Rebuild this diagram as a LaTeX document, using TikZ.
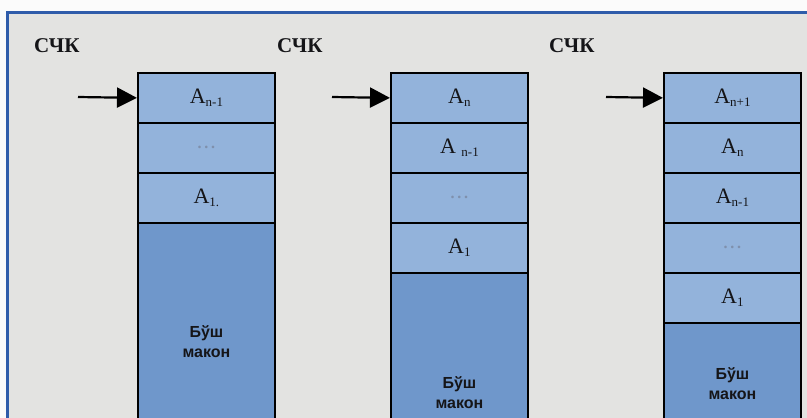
\documentclass[tikz,border=0pt]{standalone}
\usepackage{fontspec}
\setmainfont{Liberation Serif}
\newfontfamily\labsans{Liberation Sans}
\usetikzlibrary{arrows.meta}
\definecolor{bgray}{HTML}{E3E3E1}
\definecolor{framebl}{HTML}{2F5CAA}
\definecolor{cellbl}{HTML}{93B3DB}
\definecolor{freebl}{HTML}{6F97CB}
\definecolor{dotgr}{HTML}{7F90AC}
\definecolor{txtdk}{HTML}{151518}
\newcommand\Acell[1]{A\raisebox{-0.35ex}{\fontsize{13}{13}\selectfont #1}}
\tikzset{
  cellbox/.style={draw=black, line width=1.8pt, fill=cellbl, minimum width=137pt,
    minimum height=50pt, inner sep=0pt, anchor=north west, text=txtdk,
    font=\fontsize{22}{22}\selectfont},
  freebox/.style={draw=black, line width=1.8pt, fill=freebl, minimum width=137pt,
    inner sep=0pt, anchor=north west, text=txtdk, align=center,
    font=\labsans\bfseries\fontsize{16}{20}\selectfont},
  dotsbox/.style={cellbox, text=dotgr, font=\bfseries\fontsize{16}{16}\selectfont},
  sckl/.style={anchor=west, text=txtdk, font=\bfseries\fontsize{21}{21}\selectfont, inner sep=0pt},
  ptr/.style={line width=2.2pt, -{Triangle[length=20pt,width=20pt]}}
}
\begin{document}
\begin{tikzpicture}[x=1pt,y=-1pt]
\useasboundingbox (0,0) rectangle (807,418);
\clip (0,0) rectangle (807,418);
\fill[white!97!gray] (0,0) rectangle (807,418);
\fill[bgray] (7,12) rectangle (810,420);
\draw[framebl, line width=3pt] (7,420) -- (7,12) -- (810,12);
% labels
\node[sckl] (s1) at (34,46) {СЧК};
\node[sckl] (s2) at (277,46) {СЧК};
\node[sckl] (s3) at (549,46) {СЧК};
% column 1
\node[cellbox] (a1) at (137,72) {\Acell{n-1}};
\node[dotsbox] (a2) at (137,122) {.\,.\,.};
\node[cellbox] (a3) at (137,172) {\Acell{1.}};
\node[freebox, minimum height=238pt] (a4) at (137,222) {Бўш\\макон};
% column 2
\node[cellbox] (b1) at (390,72) {\Acell{n}};
\node[cellbox] (b2) at (390,122) {A\ \raisebox{-0.35ex}{\fontsize{13}{13}\selectfont n-1}};
\node[dotsbox] (b3) at (390,172) {.\,.\,.};
\node[cellbox] (b4) at (390,222) {\Acell{1}};
\node[freebox, minimum height=240pt] (b5) at (390,272) {Бўш\\макон};
% column 3
\node[cellbox] (c1) at (663,72) {\Acell{n+1}};
\node[cellbox] (c2) at (663,122) {\Acell{n}};
\node[cellbox] (c3) at (663,172) {\Acell{n-1}};
\node[dotsbox] (c4) at (663,222) {.\,.\,.};
\node[cellbox] (c5) at (663,272) {\Acell{1}};
\node[freebox, minimum height=122pt] (c6) at (663,322) {Бўш\\макон};
% pointers
\coordinate (p1) at (78,97);
\coordinate (p2) at (332,97);
\coordinate (p3) at (606,97);
\draw[ptr] (p1) -- (a1.west);
\draw[ptr] (p2) -- (b1.west);
\draw[ptr] (p3) -- (c1.west);
\end{tikzpicture}
\end{document}
